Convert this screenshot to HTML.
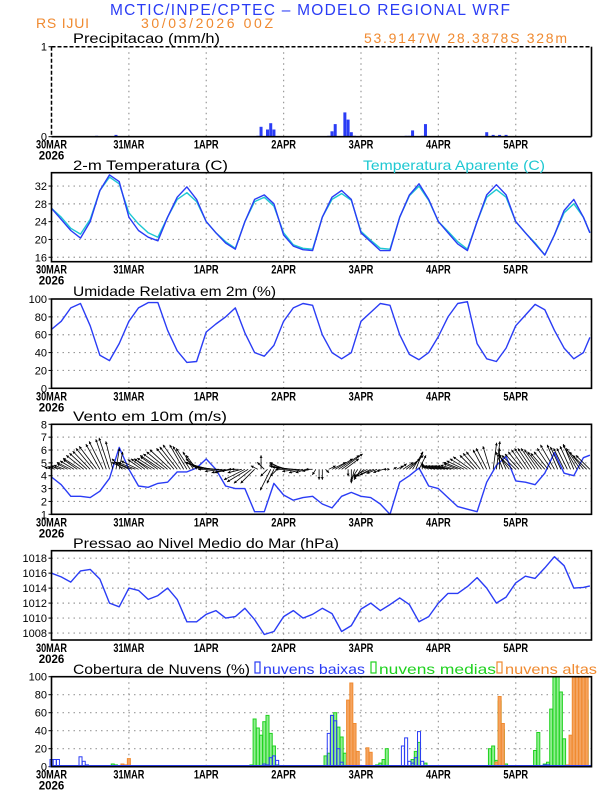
<!DOCTYPE html>
<html><head><meta charset="utf-8">
<style>
html,body{margin:0;padding:0;background:#fff;}
svg{display:block;font-family:"Liberation Sans",sans-serif;}
</style></head>
<body>
<svg id="chart" width="612" height="792" viewBox="0 0 612 792" xmlns="http://www.w3.org/2000/svg">
<text x="110" y="15" font-size="15.5" fill="#2a3cf5" textLength="400">MCTIC/INPE/CPTEC – MODELO REGIONAL WRF</text>
<text x="36" y="28" font-size="14" fill="#f08a30" textLength="53">RS IJUI</text>
<text x="141" y="28" font-size="14" fill="#f08a30" textLength="132">30/03/2026 00Z</text>
<text x="364" y="43" font-size="14" fill="#f08a30" textLength="203">53.9147W 28.3878S 328m</text>
</svg>
<script>
// ---------------- data ----------------
const hours3 = [0,3,6,9,12,15,18,21,24,27,30,33,36,39,42,45,48,51,54,57,60,63,66,69,72,75,78,81,84,87,90,93,96,99,102,105,108,111,114,117,120,123,126,129,132,135,138,141,144,147,150,153,156,159,162,165,167];
const tempVals = [27,24.5,22,20.3,24,31,34.5,33,25,22,20.5,19.7,25,29.5,31.8,29,24,21.5,19.2,17.8,24,29,30,28,21,18.5,17.7,17.5,25,29.5,31,29,21.5,19.5,17.5,17.5,25,30,32.5,29,24,21.5,19,17.5,24,30,32.3,30,24,21.5,19,16.5,21,26.5,29,25,21.5];
const tempAparVals = [27,25,22.5,21.2,24.5,31,34,32.5,26,23.5,21.5,20.5,25,29,30.5,28.5,24,21.5,19.5,18,24,28.5,29.5,27.5,21.5,18.8,18,17.8,25,29,30.3,28.8,21.8,19.8,18,17.8,25,29.8,32,28.8,24,21.8,19.5,17.8,24,29.5,31.2,29.5,24,21.5,19.2,16.5,21,26,28,25,21.5];
const rhVals = [66,75,90,95,70,37,31,50,75,90,96,96,65,42,29,30,63,72,80,90,62,40,36,48,75,90,95,93,60,40,33,40,75,85,95,93,60,38,32,40,58,80,95,97,50,33,30,45,70,82,94,88,65,45,33,40,57];
const windSpd = [3.9,3.3,2.4,2.4,2.3,2.8,3.8,6.2,4.5,3.2,3.1,3.4,3.5,4.3,4.3,4.6,5.3,4.5,3.2,3.0,3.0,1.2,1.2,3.4,2.5,2.1,2.3,2.4,1.8,1.5,2.4,2.7,2.4,2.3,1.8,1.0,3.5,4.0,4.6,3.2,3.0,2.3,1.6,1.4,1.2,3.5,4.8,5.5,3.6,3.5,3.3,4.2,5.8,4.2,4.0,5.4,5.6];
const windU = [-1,-1,-1,-1.5,-1.5,-1.5,-2,-2,-2,-2.5,-2.5,-2.5,-2.5,-2.5,-2.5,-2,-2,-1.5,-1.5,-1,0.5,0.5,-1.5,-2,
 -2,-2.5,-2.5,-2.5,-2,-2,-2,-2.5,-2.5,-2.5,-3,-3,-3,-3,-2.5,-2.5,-2.5,-2,-2,-2,-1.5,-1.5,-2,-2.5,
 -3,-3,-3,-3,-3,-2.5,-2,-2,-1.5,-1,-1,-2,-3,-3,-2.5,-2,-1,0,-1,-1,-1.5,-1,-1,-1.5,
 -2,-2.5,-3,-3,-3,-2.5,-2,-1.5,-1,-1,-0.5,0,0,0.5,1,2,2.5,3,3,2,0,0,-0.5,-1,
 -1,-1.5,-2,-2,-2,-1.5,-1,-1,-0.5,0,0.5,1,1,1.5,2,2,1.5,1,1,0,-0.5,-1,-1.5,-2,
 -2,-2,-2,-2,-2,-2,-2,-2.5,-2.5,-2.5,-2.5,-2,-2,-2,-1.5,-1.5,-1,0.5,0.5,0,-1,-1,-1.5,-2,
 -2,-2,-2,-2,-2,-2,-2,-2,-2,-2,-2,-2,-2,-1.5,-1.5,-1.5,-1.5,-1.5,-1.5,-2,-2,-2,-2,-2];
const windV = [0.3,0.4,0.5,0.5,0.6,0.8,1,1.2,1.4,1.6,2,2.3,2.6,3,3.3,3.6,4,4.3,4.5,4,3,2.5,1.5,1,
 1,1,1,1.2,1.4,1.5,1.5,1.5,1.6,1.8,2,2.2,2.5,2.8,3,3.2,3.5,3.5,3.3,3,2.5,2,1.5,1,
 1,0.8,0.5,0.3,0,-0.3,-0.5,-0.5,-0.3,0,0,-0.5,-1.5,-1.8,-2,-2,0.5,2,1,-1,-3,-2,-1,0.5,
 1,0.8,0.5,0.3,0,-0.3,-0.5,-0.5,-0.3,0,-0.8,-1.5,-1.5,-0.5,0.5,1,1.5,2,2.2,1.5,-1,-2,-1.8,-1.5,
 -1.5,-1.2,-1,-1,-0.8,-0.6,-0.5,-0.3,0,0,0.3,0.5,0.8,1,1.5,2,2.5,2.5,2,1,0.8,0.5,0.5,0.5,
 0.5,0.5,0.5,0.5,0.5,0.6,0.8,1,1.2,1.5,1.8,2,2.3,2.5,2.8,3,3.3,3.8,4,3,2.5,2.2,2,2,
 2,2.2,2.5,2.8,3,3,3,2.8,2.5,2.3,2.5,3,3.5,3.5,3.2,3,3,3.3,3.6,3.5,3,2.5,2,2];
const presVals = [1016,1015.5,1014.8,1016.3,1016.5,1015.2,1012,1011.5,1014,1013.7,1012.5,1013,1014,1012.5,1009.5,1009.5,1010.5,1011,1010,1010.2,1011.3,1009.8,1007.8,1008.2,1010.2,1011,1010,1010.5,1011.3,1010.6,1008.2,1009,1011.2,1012,1011,1011.8,1012.7,1011.8,1009.5,1010.2,1012,1013.3,1013.3,1014.2,1015.4,1014,1012,1012.8,1014.7,1015.6,1015.3,1016.7,1018.2,1017,1014,1014.1,1014.3];
const precipHours = [14,20,64,65,67,68,69,86,87,88,91,92,93,94,110,111,112,115,116,135,137,139,141];
const precipVals = [0.01,0.02,0.01,0.11,0.08,0.15,0.08,0.01,0.06,0.14,0.27,0.19,0.05,0.01,0.01,0.01,0.07,0.01,0.14,0.05,0.02,0.02,0.02];
const lowHours = [0,1,2,9,10,11,66,67,68,69,70,86,87,88,89,90,109,110,111,112,113,114,115,153,154];
const lowVals = [8,8,8,11,6,2,3,2,10,12,7,37,57,51,20,5,23,32,6,4,10,39,6,2,2];
const midHours = [19,20,62,63,64,65,66,67,68,69,70,85,86,87,88,89,90,91,101,102,103,104,106,108,112,113,114,116,136,137,138,139,140,141,150,151,153,154,155,156,157,158,159,164,165,166];
const midVals = [3,2,2,53,43,35,50,57,37,23,2,12,15,57,60,44,33,15,2,4,8,20,1,1,8,17,27,4,20,23,7,73,41,3,18,38,3,5,64,100,100,83,31,41,54,74];
const highHours = [22,23,24,92,93,94,95,98,99,138,139,140,160,161,162,163,164,165,166];
const highVals = [3,2,9,74,93,48,17,21,16,5,78,48,2,35,100,100,100,100,100];
const dayLabels = ["30MAR","31MAR","1APR","2APR","3APR","4APR","5APR"];
const tempTicks = [16,20,24,28,32];
const rhTicks = [0,20,40,60,80,100];
const windTicks = [1,2,3,4,5,6,7,8];
const presTicks = [1008,1010,1012,1014,1016,1018];
const cloudTicks = [0,20,40,60,80,100];

// ---------------- geometry ----------------
const svg = document.getElementById('chart');
const NS = 'http://www.w3.org/2000/svg';
const L = 51.5, R = 591.5, H_END = 167.5;
function X(h){ return L + h / H_END * (R - L); }
const BLUE = '#2a3cf5';
function el(tag, attrs, parent){
  const e = document.createElementNS(NS, tag);
  for (const k in attrs) e.setAttribute(k, attrs[k]);
  (parent || svg).appendChild(e);
  return e;
}
function mkY(top, bot, vmin, vmax){ return v => bot - (v - vmin) / (vmax - vmin) * (bot - top); }

function panel(name, top, bot, ticks, Y){
  const g = el('g', {});
  
  
  for (let d = 1; d < 7; d++){
    const gl = el('line', {x1:X(d*24), x2:X(d*24), y1:top, y2:bot, stroke:'#999', 'stroke-width':1.2, 'stroke-dasharray':'1.5,4'}, g);
    
    
  }
  ticks.forEach(t => {
    const y = Y(t);
    if (y > top + 2 && y < bot - 2){
      const gl = el('line', {x1:L, x2:R, y1:y, y2:y, stroke:'#999', 'stroke-width':1.2, 'stroke-dasharray':'1.5,4'}, g);
      
      
    }
    const tl = el('text', {x:47, y:y+4, 'font-size':11, 'text-anchor':'end', fill:'#000'}, g);
    tl.textContent = t;
    
    
    const tk = el('line', {x1:L-3, x2:L, y1:y, y2:y, stroke:'#000', 'stroke-width':1}, g);
    
    
  });
  dayLabels.forEach((lab, i) => {
    const t = el('text', {x:X(i*24), y:bot+12, 'font-size':11.5, 'text-anchor':'middle', fill:'#000', 'font-weight':'bold', textLength: lab.length*6.2, lengthAdjust:'spacingAndGlyphs'}, g);
    t.textContent = lab;
    
    
  });
  const yr = el('text', {x:X(0), y:bot+23, 'font-size':11.5, 'text-anchor':'middle', fill:'#000', 'font-weight':'bold'}, g);
  yr.textContent = '2026';
  
  
  return g;
}
function frame(g, top, bot){
  const f = el('rect', {x:L, y:top, width:R-L, height:bot-top, fill:'none', stroke:'#000', 'stroke-width':1.6}, g);
  
  
}
function title(txt, x, y, w, color){
  const t = el('text', {x:x, y:y, 'font-size':14, fill:color || '#000', textLength:w, lengthAdjust:'spacingAndGlyphs'});
  t.textContent = txt;
  
  
  return t;
}
function line(g, xs, ys, Y, color, name, w){
  const d = xs.map((h, i) => (i ? 'L' : 'M') + X(h).toFixed(1) + ',' + Y(ys[i]).toFixed(1)).join('');
  const p = el('path', {d:d, fill:'none', stroke:color, 'stroke-width':w || 1.4, 'stroke-linejoin':'round'}, g);
  
  
}

// ---------------- precipitation ----------------
{
  const top = 46.7, bot = 136.7, Y = mkY(top, bot, 0, 1);
  const g = panel('precipitation', top, bot, [0, 1], Y);
  title('Precipitacao (mm/h)', 73, 43, 147);
  precipHours.forEach((h, i) => {
    const b = el('rect', {x:X(h)-1.5, y:Y(precipVals[i]), width:3, height:bot-Y(precipVals[i]), fill:BLUE}, g);
    
    
  });
  el('line', {x1:L, x2:R, y1:top, y2:top, stroke:'#000', 'stroke-width':1.5, 'stroke-dasharray':'4,2'}, g);
  el('line', {x1:L, x2:L, y1:top, y2:bot, stroke:'#000', 'stroke-width':1.5, 'stroke-dasharray':'4,2'}, g);
  el('line', {x1:R, x2:R, y1:top, y2:bot, stroke:'#000', 'stroke-width':1.6}, g);
  el('line', {x1:L, x2:R, y1:bot, y2:bot, stroke:'#000', 'stroke-width':1.6}, g);
}
// ---------------- temperature ----------------
{
  const top = 172.7, bot = 261.7, Y = mkY(top, bot, 15, 35);
  const g = panel('temperature', top, bot, tempTicks, Y);
  title('2-m Temperatura (C)', 73, 170, 155);
  title('Temperatura Aparente (C)', 363, 170, 182, '#1ec8d2');
  line(g, hours3, tempAparVals, Y, '#1ec8d2', 'apparent-temperature-line');
  line(g, hours3, tempVals, Y, BLUE, 'temperature-line');
  frame(g, top, bot);
}
// ---------------- humidity ----------------
{
  const top = 299, bot = 388.3, Y = mkY(top, bot, 0, 100);
  const g = panel('humidity', top, bot, rhTicks, Y);
  title('Umidade Relativa em 2m (%)', 73, 296, 203);
  line(g, hours3, rhVals, Y, BLUE, 'humidity-line');
  frame(g, top, bot);
}
// ---------------- wind ----------------
{
  const top = 424.3, bot = 514.3, Y = mkY(top, bot, 1, 8);
  const g = panel('wind', top, bot, windTicks, Y);
  title('Vento em 10m (m/s)', 73, 421, 154);
  line(g, hours3, windSpd, Y, BLUE, 'wind-speed-line');
  const by = Y(4.5), S = 7;
  windU.forEach((u, h) => {
    const x0 = X(h), x1 = x0 + u*S, y1 = by - windV[h]*S;
    const a = el('g', {}, g);
    
    
    el('line', {x1:x0, y1:by, x2:x1, y2:y1, stroke:'#000', 'stroke-width':0.8}, a);
    const ang = Math.atan2(y1 - by, x1 - x0), hl = 3;
    const p1 = [x1 - hl*Math.cos(ang - 0.5), y1 - hl*Math.sin(ang - 0.5)];
    const p2 = [x1 - hl*Math.cos(ang + 0.5), y1 - hl*Math.sin(ang + 0.5)];
    el('polygon', {points: x1+','+y1+' '+p1.join(',')+' '+p2.join(','), fill:'#000'}, a);
  });
  frame(g, top, bot);
}
// ---------------- pressure ----------------
{
  const top = 550.7, bot = 640, Y = mkY(top, bot, 1007.07, 1019.0);
  const g = panel('pressure', top, bot, presTicks, Y);
  title('Pressao ao Nivel Medio do Mar (hPa)', 73, 548, 266);
  line(g, hours3, presVals, Y, BLUE, 'pressure-line');
  frame(g, top, bot);
}
// ---------------- clouds ----------------
{
  const top = 676.7, bot = 766.7, Y = mkY(top, bot, 0, 100);
  const g = panel('clouds', top, bot, cloudTicks, Y);
  title('Cobertura de Nuvens (%)', 73, 674, 177);
  const legs = [['nuvens baixas', 255, BLUE, 102], ['nuvens medias', 371, '#1ed21e', 117], ['nuvens altas', 497, '#f08a30', 92]];
  legs.forEach(l => {
    const lg = el('g', {});
    
    
    el('rect', {x:l[1], y:662, width:5, height:11, fill:'none', stroke:l[2], 'stroke-width':1.2}, lg);
    const t = el('text', {x:l[1]+8, y:674, 'font-size':14, fill:l[2], textLength:l[3], lengthAdjust:'spacingAndGlyphs'}, lg);
    t.textContent = l[0];
  });
  function bars(hs, vs, stroke, fill, name){
    hs.forEach((h, i) => {
      const b = el('rect', {x:X(h)-1.5, y:Y(vs[i]), width:3, height:bot-Y(vs[i]), fill:fill, stroke:stroke, 'stroke-width':1}, g);
      
      
    });
  }
  bars(midHours, midVals, '#1ed21e', '#90ee90', 'mid-cloud-bar');
  bars(lowHours, lowVals, BLUE, 'none', 'low-cloud-bar');
  bars(highHours, highVals, '#f08a30', '#f4a460', 'high-cloud-bar');
  el('line', {x1:L, x2:R, y1:bot-0.5, y2:bot-0.5, stroke:BLUE, 'stroke-width':2.5}, g);
  frame(g, top, bot);
}
</script>
</body></html>
